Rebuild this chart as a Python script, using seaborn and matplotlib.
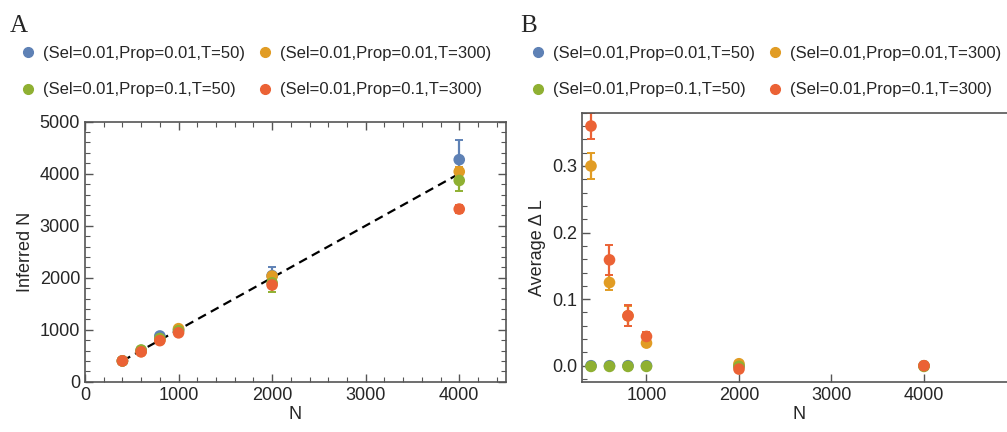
import matplotlib.pyplot as plt
import numpy as np
import pandas as pd
import seaborn as sns
from matplotlib.ticker import MultipleLocator, FormatStrFormatter, FixedLocator

# Data
n_vals = [400, 600, 800, 1000, 2000, 4000]
labels = ["(Sel=0.01,Prop=0.01,T=50)", "(Sel=0.01,Prop=0.01,T=300)",
          "(Sel=0.01,Prop=0.1,T=50)", "(Sel=0.01,Prop=0.1,T=300)"]
colors = ["#5E81B5", "#E19C24", "#8FB032", "#EB6235"]

# Panel A: inferred N
inf_blue = [400, 600, 880, 1000, 2040, 4270]
inf_blue_err = [10, 20, 30, 30, 170, 370]
inf_orange = [400, 580, 800, 1020, 2030, 4040]
inf_orange_err = [10, 15, 20, 30, 60, 80]
inf_green = [400, 610, 830, 980, 1900, 3870]
inf_green_err = [10, 20, 30, 40, 170, 210]
inf_red = [400, 575, 790, 940, 1860, 3320]
inf_red_err = [10, 15, 20, 25, 50, 70]

# Panel B: average delta L
dl_blue = [0.0, 0.0, 0.0, 0.0, 0.0, 0.0]
dl_blue_err = [0.0, 0.0, 0.0, 0.0, 0.0, 0.0]
dl_orange = [0.30, 0.125, 0.075, 0.034, 0.003, 0.0]
dl_orange_err = [0.02, 0.012, 0.015, 0.005, 0.002, 0.001]
dl_green = [-0.001, -0.001, -0.001, -0.001, -0.001, -0.001]
dl_green_err = [0.0, 0.0, 0.0, 0.0, 0.0, 0.0]
dl_red = [0.36, 0.159, 0.075, 0.044, -0.005, 0.0]
dl_red_err = [0.02, 0.022, 0.016, 0.007, 0.003, 0.001]

def to_frame(vals, errs):
    rows = []
    for lab, v, e in zip(labels, vals, errs):
        for n, y, err in zip(n_vals, v, e):
            rows.append({"N": n, "value": y, "err": err, "series": lab})
    return pd.DataFrame(rows)

df_a = to_frame([inf_blue, inf_orange, inf_green, inf_red],
                [inf_blue_err, inf_orange_err, inf_green_err, inf_red_err])
df_b = to_frame([dl_blue, dl_orange, dl_green, dl_red],
                [dl_blue_err, dl_orange_err, dl_green_err, dl_red_err])

sns.set_style("white")
plt.rcParams["font.family"] = ["Liberation Sans", "DejaVu Sans"]
palette = dict(zip(labels, colors))
frame_col = "#555555"

fig = plt.figure(figsize=(10.07, 4.32), dpi=100)
ax_a = fig.add_axes([0.0844, 0.1164, 0.4181, 0.6019])
ax_b = fig.add_axes([0.5777, 0.1164, 0.4317, 0.6227])


def draw(ax, df):
    for lab in labels:
        sub = df[df["series"] == lab]
        ax.errorbar(sub["N"], sub["value"], yerr=sub["err"], fmt="none",
                    ecolor=palette[lab], elinewidth=1.6, capsize=3, capthick=1.4,
                    zorder=2)
        sns.scatterplot(data=sub, x="N", y="value", color=palette[lab], s=70,
                        edgecolor="none", ax=ax, zorder=3, legend=False)


# Panel A
ax_a.plot([400, 4000], [400, 4000], ls=(0, (4, 2.5)), color="black", lw=1.6, zorder=1)
draw(ax_a, df_a)
ax_a.set_xlim(0, 4500)
ax_a.set_ylim(0, 5000)
ax_a.xaxis.set_major_locator(MultipleLocator(1000))
ax_a.yaxis.set_major_locator(MultipleLocator(1000))
ax_a.xaxis.set_minor_locator(MultipleLocator(200))
ax_a.yaxis.set_minor_locator(MultipleLocator(200))
ax_a.tick_params(which="both", direction="in", top=True, right=True, bottom=True,
                 left=True, color=frame_col, labelsize=13)
ax_a.tick_params(which="major", length=6, width=1)
ax_a.tick_params(which="minor", length=3.5, width=0.8)
ax_a.set_xlabel("N", fontsize=13, labelpad=2)
ax_a.set_ylabel("Inferred N", fontsize=13)

# Panel B
draw(ax_b, df_b)
ax_b.set_xlim(300, 5000)
ax_b.set_ylim(-0.024, 0.38)
ax_b.xaxis.set_major_locator(FixedLocator([1000, 2000, 3000, 4000]))
ax_b.yaxis.set_major_locator(MultipleLocator(0.1))
ax_b.yaxis.set_minor_locator(MultipleLocator(0.02))
ax_b.yaxis.set_major_formatter(FormatStrFormatter("%.1f"))
ax_b.tick_params(which="both", direction="in", bottom=True, left=True, top=False,
                 right=False, color=frame_col, labelsize=13)
ax_b.tick_params(which="major", length=6, width=1)
ax_b.tick_params(which="minor", length=3.5, width=0.8)
ax_b.set_xlabel("N", fontsize=13, labelpad=2)
ax_b.set_ylabel("Average \u0394 L", fontsize=13)

for ax in (ax_a, ax_b):
    for sp in ax.spines.values():
        sp.set_color(frame_col)
        sp.set_linewidth(1.2)
    handles = [plt.Line2D([], [], marker="o", ls="none", color=palette[l],
                          markersize=7) for l in labels]
    order = [0, 2, 1, 3]
    bx = 0.018 if ax is ax_a else 0.524
    ax.legend([handles[i] for i in order], [labels[i] for i in order], ncol=2,
              loc="upper left", bbox_to_anchor=(bx, 0.894),
              bbox_transform=fig.transFigure, frameon=False,
              fontsize=12, handletextpad=0.3, columnspacing=0.6,
              labelspacing=1.3, handlelength=1.2, borderaxespad=0,
              borderpad=0)

fig.text(0.010, 0.925, "A", fontsize=18, family="Liberation Serif")
fig.text(0.517, 0.925, "B", fontsize=18, family="Liberation Serif")

fig.savefig("out.png", dpi=100)
